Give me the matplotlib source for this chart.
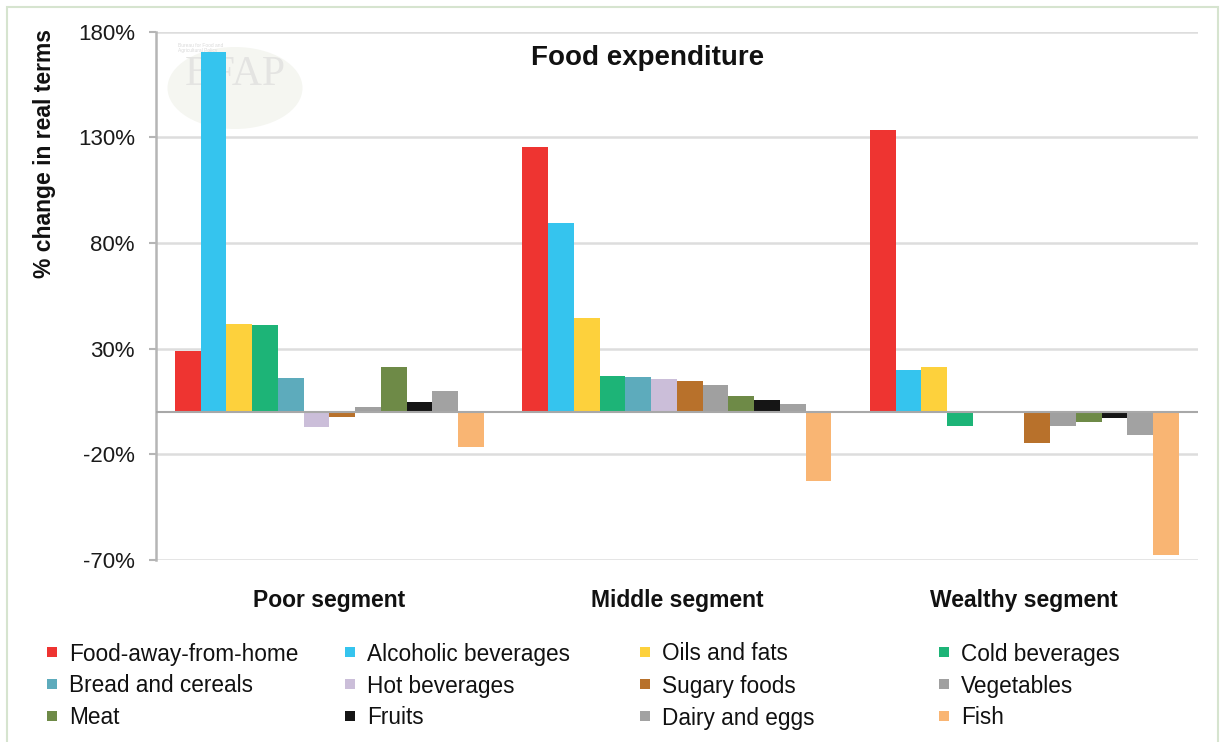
import matplotlib
matplotlib.use("Agg")
import matplotlib.pyplot as plt
from matplotlib.patches import Rectangle, Ellipse
import numpy as np

plt.rcParams['font.family'] = ['Liberation Sans', 'DejaVu Sans']

segments = ["Poor segment", "Middle segment", "Wealthy segment"]
categories = ["Food-away-from-home", "Alcoholic beverages", "Oils and fats", "Cold beverages",
              "Bread and cereals", "Hot beverages", "Sugary foods", "Vegetables",
              "Meat", "Fruits", "Dairy and eggs", "Fish"]

# % change in real terms, per category: [poor, middle, wealthy]
food_away = [28.9, 125.5, 133.5]
alcoholic = [170.6, 89.5, 19.9]
oils_fats = [41.7, 44.6, 21.4]
cold_bev = [41.0, 17.2, -6.8]
bread_cereals = [16.1, 16.4, -0.6]
hot_bev = [-7.0, 15.6, -0.4]
sugary = [-2.2, 14.8, -14.4]
vegetables = [2.2, 12.6, -6.8]
meat = [21.2, 7.6, -4.5]
fruits = [4.6, 5.8, -2.8]
dairy_eggs = [10.0, 3.8, -11.0]
fish = [-16.7, -32.8, -67.4]

series = [food_away, alcoholic, oils_fats, cold_bev, bread_cereals, hot_bev,
          sugary, vegetables, meat, fruits, dairy_eggs, fish]

colors = ["#EE3431", "#35C4EE", "#FDD13C", "#1DB477", "#5DABBC", "#CBBED9",
          "#B8712B", "#A0A0A0", "#6E8A47", "#151515", "#A2A2A2", "#F9B573"]

yticks = [-70, -20, 30, 80, 130, 180]

W, H = 1221, 742
fig = plt.figure(figsize=(W / 100, H / 100), dpi=100)

left, right = 155.7 / W, 1198 / W
top, bottom = 1 - 31.7 / H, 1 - 560 / H
ax = fig.add_axes([left, bottom, right - left, top - bottom])

x = np.arange(len(segments))
n = len(series)
width = 0.889 / n
for j, (vals, col) in enumerate(zip(series, colors)):
    ax.bar(x + (j - (n - 1) / 2) * width, vals, width, color=col,
           edgecolor='none', zorder=3, label=categories[j])

ax.set_xlim(-0.5, len(segments) - 0.5)
ax.set_ylim(-70, 180)
ax.set_yticks(yticks)
ax.set_yticklabels([f"{v}%" for v in yticks], fontsize=16, color='#1a1a1a')
ax.set_xticks(x)
ax.set_xticklabels(segments, fontsize=16.5, fontweight='bold', color='#111111')
ax.tick_params(axis='x', length=0, pad=21)
ax.tick_params(axis='y', length=5, width=1.5, color='#B5B5B5', pad=10)

ax.grid(axis='y', color='#DDDDDD', linewidth=1.8, zorder=0)
ax.axhline(0, color='#A8A8A8', linewidth=1.5, zorder=4)
for s in ['top', 'right', 'bottom']:
    ax.spines[s].set_visible(False)
ax.spines['left'].set_color('#B5B5B5')
ax.spines['left'].set_linewidth(1.8)

# Title and axis label
fig.text(648 / W, 1 - 58 / H, "Food expenditure", fontsize=20, fontweight='bold',
         ha='center', va='center', color='#111111')
fig.text(45 / W, 1 - 153 / H, "% change in real terms", fontsize=16.5, fontweight='bold',
         rotation=90, ha='center', va='center', color='#111111')

# Faint BFAP watermark, kept behind the bars
ax.add_patch(Ellipse((235 / W, 1 - 88 / H), 135 / W, 82 / H, facecolor='#F5F6F1',
                     edgecolor='none', transform=fig.transFigure, zorder=1))
ax.text(235 / W, 1 - 75 / H, "BFAP", fontsize=30, family='Liberation Serif',
        color='#E4E4E2', ha='center', va='center', transform=fig.transFigure, zorder=1.5)
ax.text(178 / W, 1 - 48 / H, "Bureau for Food and\nAgricultural Policy", fontsize=3.5,
        color='#DADADA', ha='left', va='center', transform=fig.transFigure, zorder=1.5)

# Legend laid out in four evenly spaced columns
col_x = [52, 350, 645, 944]
row_y = [654, 686, 718]
for j, (name, col) in enumerate(zip(categories, colors)):
    r, c = divmod(j, 4)
    sx, sy = col_x[c], row_y[r]
    fig.add_artist(Rectangle(((sx - 5) / W, 1 - (sy + 3) / H), 10 / W, 10 / H,
                             facecolor=col, edgecolor='none',
                             transform=fig.transFigure))
    fig.text((sx + 17) / W, 1 - sy / H, name, fontsize=16.3, ha='left',
             va='center', color='#111111')

# Light frame around the chart
fig.add_artist(Rectangle((7 / W, -0.05), (1218 - 7) / W, 1.05 - 7 / H,
                         facecolor='none', edgecolor='#D6E4CF', linewidth=1.5,
                         transform=fig.transFigure))

fig.savefig("out.png", dpi=100)
